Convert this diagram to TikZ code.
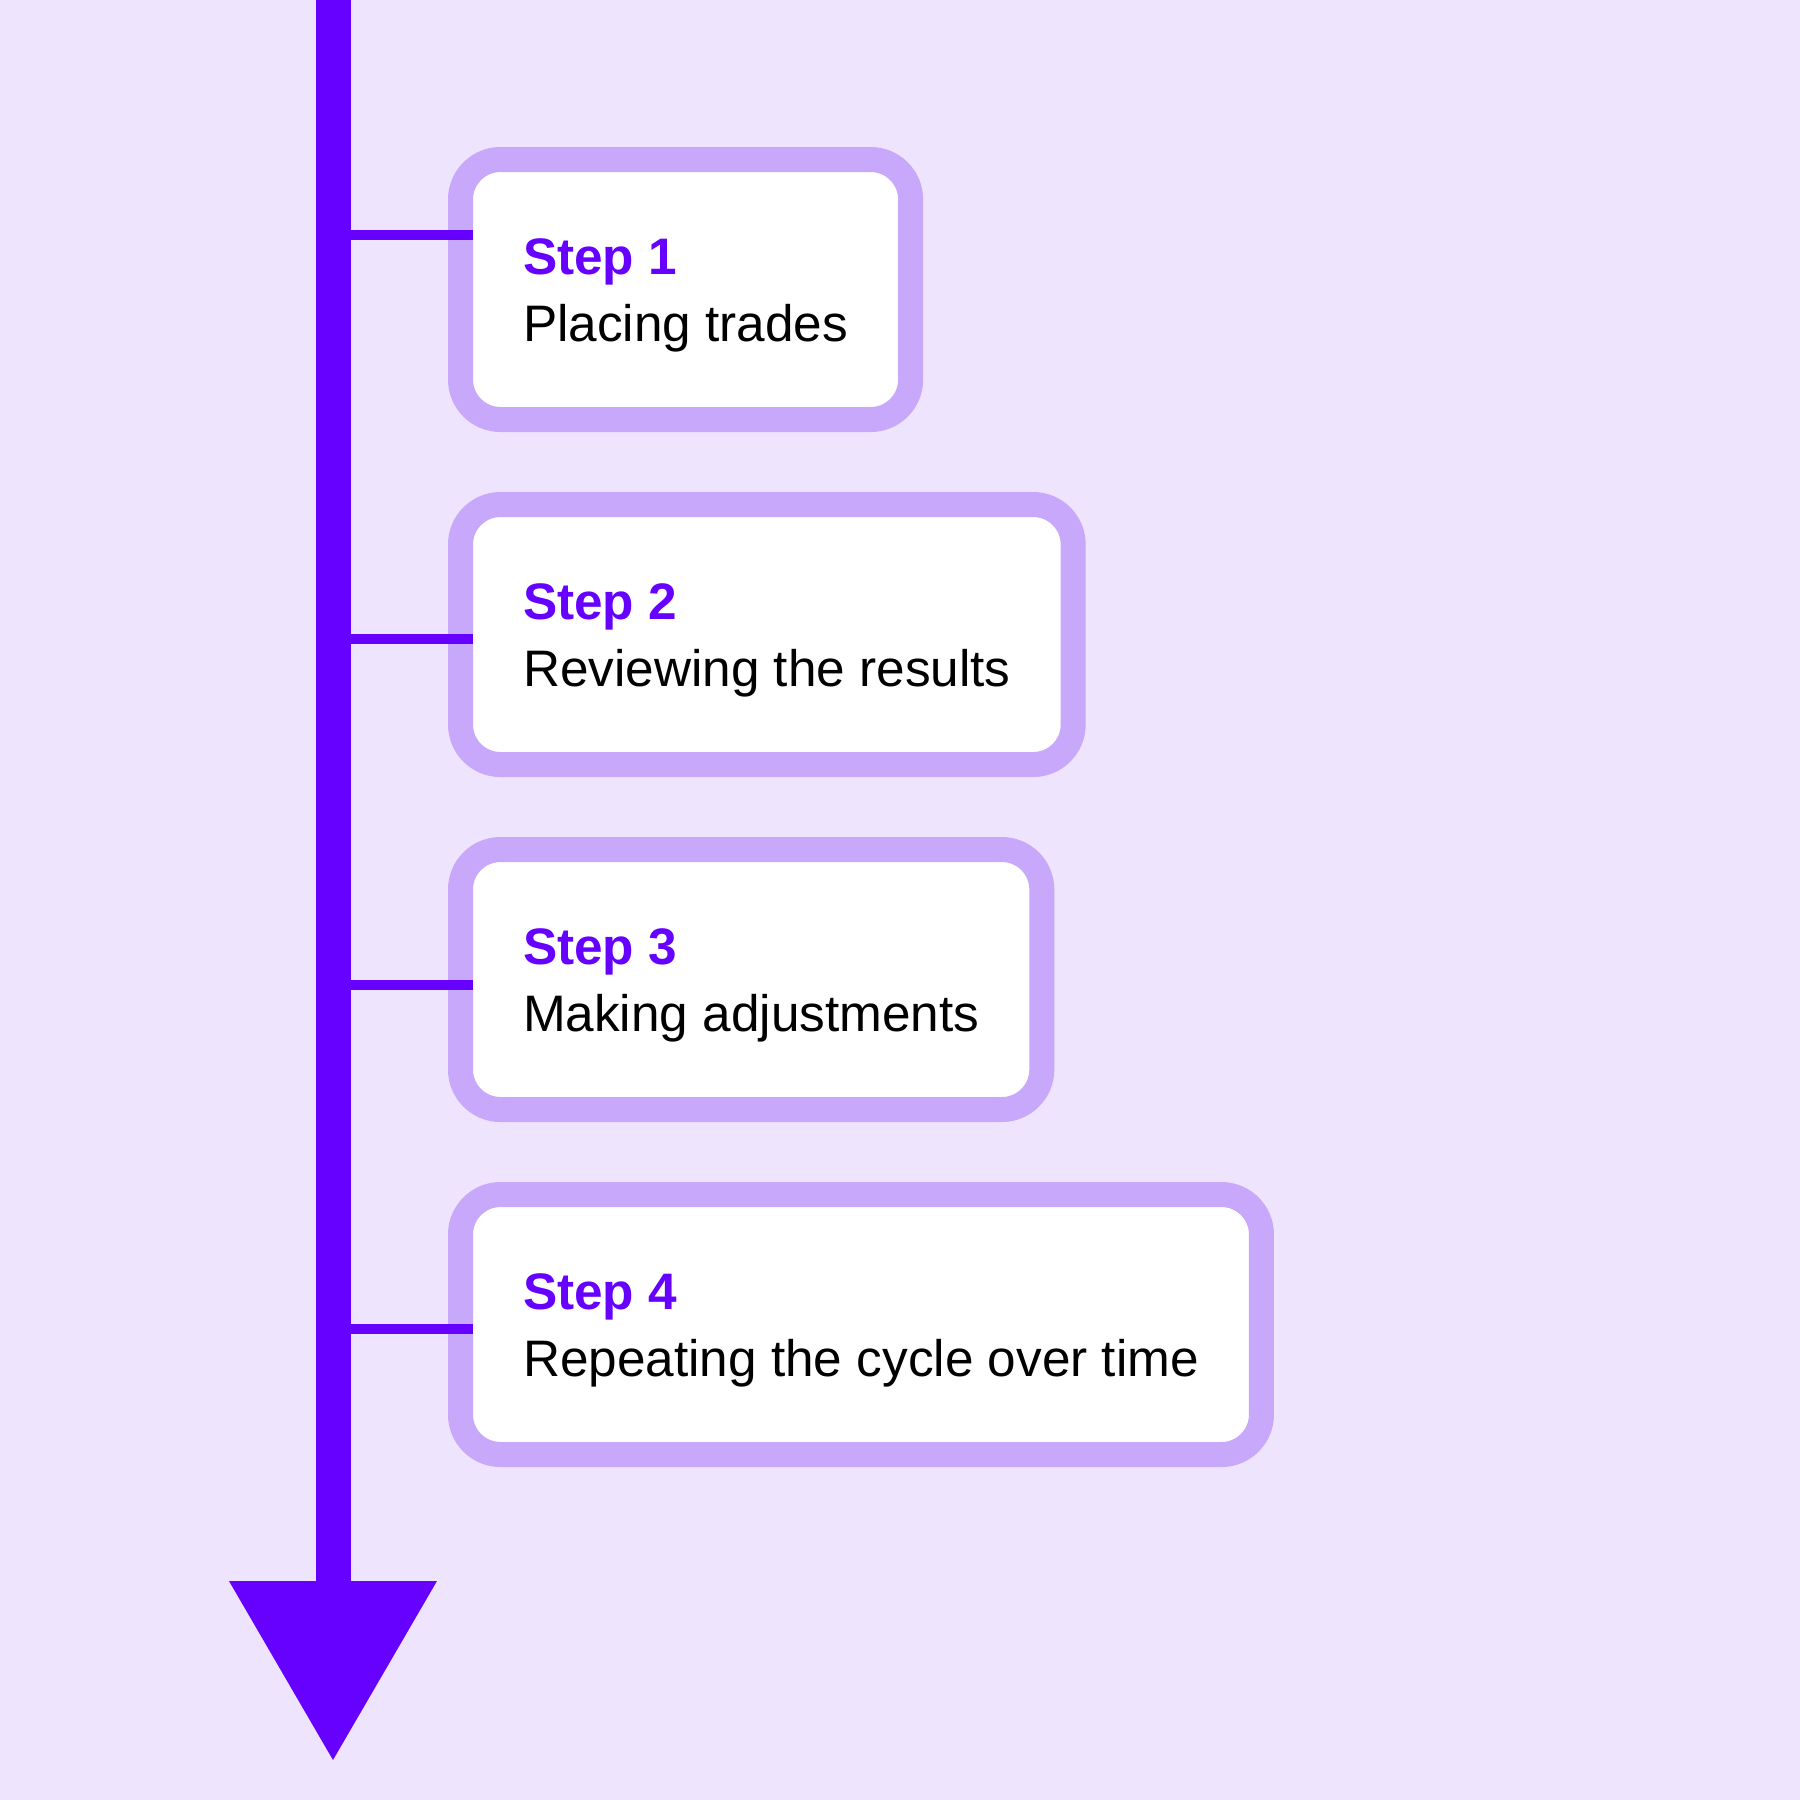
\documentclass[tikz,border=0pt]{standalone}
\usepackage{fontspec}
\setmainfont{Liberation Sans}
\definecolor{bgpurple}{HTML}{EEE4FE}
\definecolor{mainpurple}{HTML}{6600FF}
\definecolor{framepurple}{HTML}{C8A8FA}
\tikzset{
  stepbox/.style={draw=framepurple, line width=2.5mm, fill=white, rounded corners=4mm,
    anchor=west, outer sep=0pt, minimum height=2.6cm, inner xsep=6.25mm, align=left,
    font=\fontsize{14.6}{19}\selectfont},
  tick/.style={mainpurple, line width=1mm},
}
\newcommand{\steptitle}[1]{\rule{0pt}{13.5pt}{\bfseries\color{mainpurple}Step #1}}
\begin{document}
\begin{tikzpicture}
  \fill[bgpurple] (0,0) rectangle (18,-18);
  \useasboundingbox (0,0) rectangle (18,-18);
  % timeline
  \coordinate (top) at (3.33,0);
  \coordinate (bot) at (3.33,-15.81);
  \draw[mainpurple, line width=3.5mm] (top) -- (bot);
  \fill[mainpurple] (2.29,-15.81) -- (4.37,-15.81) -- (3.33,-17.60) -- cycle;
  % steps
  \node[stepbox] (s1) at (4.605,-2.895) {\steptitle{1}\\Placing trades};
  \node[stepbox] (s2) at (4.605,-6.345) {\steptitle{2}\\Reviewing the results};
  \node[stepbox] (s3) at (4.605,-9.795) {\steptitle{3}\\Making adjustments};
  \node[stepbox] (s4) at (4.605,-13.245) {\steptitle{4}\\Repeating the cycle over time};
  \foreach \s/\d in {s1/0.545,s2/-0.045,s3/-0.055,s4/-0.045}
  {
    \draw[tick] ([xshift=1.25mm,yshift=\d cm]\s.west) -- ([yshift=\d cm]\s.west -| top);
  }
\end{tikzpicture}
\end{document}
